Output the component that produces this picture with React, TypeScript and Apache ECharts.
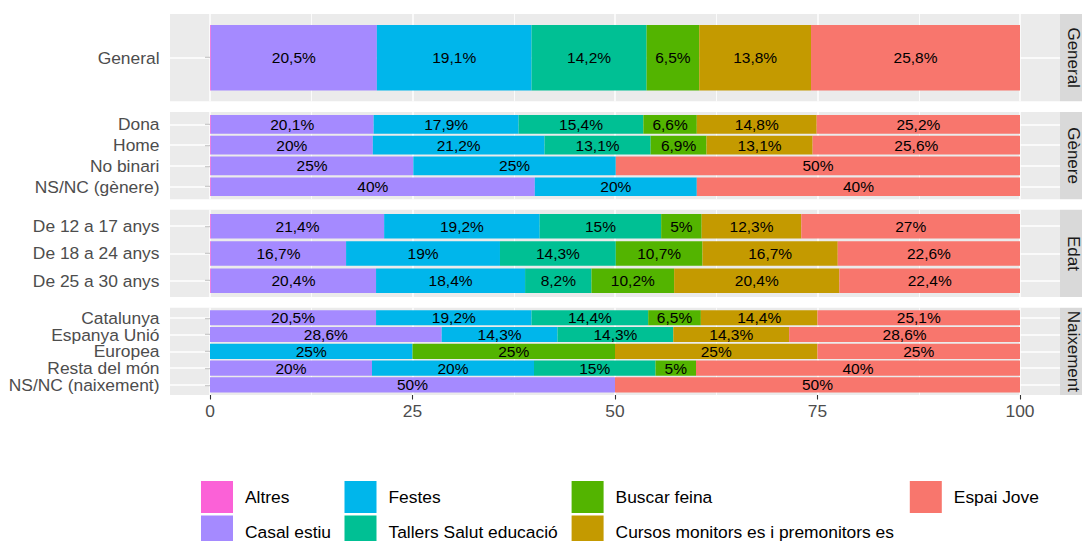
import React, { useEffect, useRef } from 'react';
import * as echarts from 'echarts';

// ---------- data ----------
const facets = ['General', 'Gènere', 'Edat', 'Naixement'];
const facetRows = [
  ['General'],
  ['Dona', 'Home', 'No binari', 'NS/NC (gènere)'],
  ['De 12 a 17 anys', 'De 18 a 24 anys', 'De 25 a 30 anys'],
  ['Catalunya', 'Espanya Unió', 'Europea', 'Resta del món', 'NS/NC (naixement)'],
];
// one value per row, rows in the order of facetRows (flattened)
const altres = [0.1, 0.1, 0.1, 0.1, 0.1, 0.1, 0.1, 0.1, 0, 0, 0, 0, 0];
const casalEstiu = [20.5, 20.1, 20, 25, 40, 21.4, 16.7, 20.4, 20.5, 28.6, 0, 20, 50];
const festes = [19.1, 17.9, 21.2, 25, 20, 19.2, 19, 18.4, 19.2, 14.3, 25, 20, 0];
const tallersSalut = [14.2, 15.4, 13.1, 0, 0, 15, 14.3, 8.2, 14.4, 14.3, 0, 15, 0];
const buscarFeina = [6.5, 6.6, 6.9, 0, 0, 5, 10.7, 10.2, 6.5, 0, 25, 5, 0];
const cursosMonitors = [13.8, 14.8, 13.1, 0, 0, 12.3, 16.7, 20.4, 14.4, 14.3, 25, 0, 0];
const espaiJove = [25.8, 25.2, 25.6, 50, 40, 27, 22.6, 22.4, 25.1, 28.6, 25, 40, 50];

const seriesNames = [
  'Altres',
  'Casal estiu',
  'Festes',
  'Tallers Salut educació',
  'Buscar feina',
  'Cursos monitors es i premonitors es',
  'Espai Jove',
];
const seriesValues = [altres, casalEstiu, festes, tallersSalut, buscarFeina, cursosMonitors, espaiJove];
const colors = ['#FB61D7', '#A58AFF', '#00B6EB', '#00C094', '#53B400', '#C49A00', '#F8766D'];
const xMin = 0;
const xMax = 100;
const xInterval = 25;

// ---------- layout ----------
const FONT = '"Liberation Sans", Arial, Helvetica, sans-serif';
const panelLeft = 170;
const panelRight = 1060;
const plotLeft = 210;
const plotRight = 1020;
const panelTop0 = 14;
const panelH = 87.3;
const panelStep = 97.9;
const stripW = 30;
const legendX = [201, 344.5, 571.6, 909.8];
const legendY = [481, 515.5];

const fmt = (v: number) => (Math.round(v * 10) / 10).toString().replace('.', ',') + '%';

function buildOption() {
  const grid: any[] = [];
  const xAxis: any[] = [];
  const yAxis: any[] = [];
  const series: any[] = [];
  const graphic: any[] = [];
  let rowOffset = 0;
  const last = facets.length - 1;

  facets.forEach((facet, i) => {
    const rows = facetRows[i];
    const n = rows.length;
    const top = panelTop0 + i * panelStep;
    const band = panelH / (n + 0.2);
    const pad = 0.1 * band;
    const base = i * 4;

    // A: grey panel background
    grid.push({
      left: panelLeft, top, width: panelRight - panelLeft, height: panelH,
      show: true, backgroundColor: '#EBEBEB', borderWidth: 0, containLabel: false,
    });
    xAxis.push({ type: 'value', gridIndex: base, show: false, min: 0, max: 1 });
    yAxis.push({ type: 'value', gridIndex: base, show: false, min: 0, max: 1 });

    // B: vertical grid lines, x axis on last panel
    grid.push({ left: plotLeft, top, width: plotRight - plotLeft, height: panelH, containLabel: false });
    xAxis.push({
      type: 'value', gridIndex: base + 1, min: xMin, max: xMax, interval: xInterval,
      axisLine: { show: false },
      axisTick: { show: i === last, length: 4.5, lineStyle: { color: '#333333', width: 1.1 } },
      axisLabel: { show: i === last, fontSize: 17.4, color: '#4D4D4D', margin: 7, fontFamily: FONT },
      splitLine: { show: true, lineStyle: { color: '#FFFFFF', width: 1.5 } },
      minorTick: { show: false, splitNumber: 2 },
      minorSplitLine: { show: true, lineStyle: { color: '#FFFFFF', width: 0.8 } },
    });
    yAxis.push({ type: 'value', gridIndex: base + 1, show: false, min: 0, max: 1 });

    // D: horizontal grid lines at category centres across full panel
    grid.push({ left: panelLeft, top: top + pad, width: panelRight - panelLeft, height: n * band, containLabel: false });
    xAxis.push({ type: 'value', gridIndex: base + 2, show: false, min: -5, max: 105 });
    yAxis.push({ type: 'category', gridIndex: base + 2, show: false, inverse: true, data: rows });
    series.push({
      type: 'line',
      xAxisIndex: base + 2,
      yAxisIndex: base + 2,
      data: [],
      z: 1,
      silent: true,
      markLine: {
        silent: true,
        z: 1,
        symbol: ['none', 'none'],
        label: { show: false },
        lineStyle: { color: '#FFFFFF', width: 1.5, type: 'solid' },
        data: rows.map((_, k) => ({ yAxis: k })),
      },
    });

    // C: bars
    grid.push({ left: plotLeft, top: top + pad, width: plotRight - plotLeft, height: n * band, containLabel: false });
    xAxis.push({ type: 'value', gridIndex: base + 3, show: false, min: xMin, max: xMax });
    yAxis.push({
      type: 'category', gridIndex: base + 3, inverse: true, data: rows, offset: plotLeft - panelLeft,
      axisLine: { show: false },
      axisTick: { show: true, alignWithLabel: true, interval: 0, length: 5, lineStyle: { color: '#333333', width: 1.1 } },
      axisLabel: {
        interval: 0, fontSize: 17.4, lineHeight: 15, color: '#4D4D4D', margin: 10.5, fontFamily: FONT,
      },
      splitLine: { show: false },
    });
    seriesNames.forEach((name, s) => {
      series.push({
        type: 'bar',
        name,
        xAxisIndex: base + 3,
        yAxisIndex: base + 3,
        stack: 'total' + i,
        barWidth: '90%',
        z: 3,
        itemStyle: { color: colors[s] },
        label: {
          show: s !== 0,
          position: 'inside',
          color: '#000000',
          fontSize: 15.5,
          lineHeight: 14,
          fontFamily: FONT,
          textBorderWidth: 0,
          formatter: (p: any) => (p.value > 0 ? fmt(p.value) : ''),
        },
        data: seriesValues[s].slice(rowOffset, rowOffset + n),
      });
    });

    // strip
    graphic.push({
      type: 'rect', left: panelRight, top, z: 5,
      shape: { width: stripW, height: panelH },
      style: { fill: '#D9D9D9' },
    });
    graphic.push({
      type: 'text', x: panelRight + 13.5, y: top + panelH / 2, rotation: -Math.PI / 2, z: 6,
      style: {
        text: facet, fontSize: 17, fill: '#1A1A1A', fontFamily: FONT,
        align: 'center', verticalAlign: 'middle',
      },
    });

    rowOffset += n;
  });

  const legend = seriesNames.map((name, k) => ({
    data: [name],
    left: legendX[Math.floor(k / 2)],
    top: legendY[k % 2],
    itemWidth: 32,
    itemHeight: 32,
    icon: 'rect',
    selectedMode: false,
    padding: 0,
    textStyle: { fontSize: 17.4, color: '#000000', fontFamily: FONT, padding: [0, 0, 0, 7] },
  }));

  return {
    animation: false,
    textStyle: { fontFamily: FONT },
    grid,
    xAxis,
    yAxis,
    series,
    legend,
    graphic,
  };
}

export default function App() {
  const ref = useRef<HTMLDivElement>(null);
  useEffect(() => {
    if (!ref.current) return;
    const chart = echarts.init(ref.current, undefined, { renderer: 'svg' });
    chart.setOption(buildOption() as any);
    return () => chart.dispose();
  }, []);
  return (
    <div
      ref={ref}
      style={{ position: 'fixed', left: 0, top: 0, width: 1082, height: 541, background: '#FFFFFF' }}
    />
  );
}
